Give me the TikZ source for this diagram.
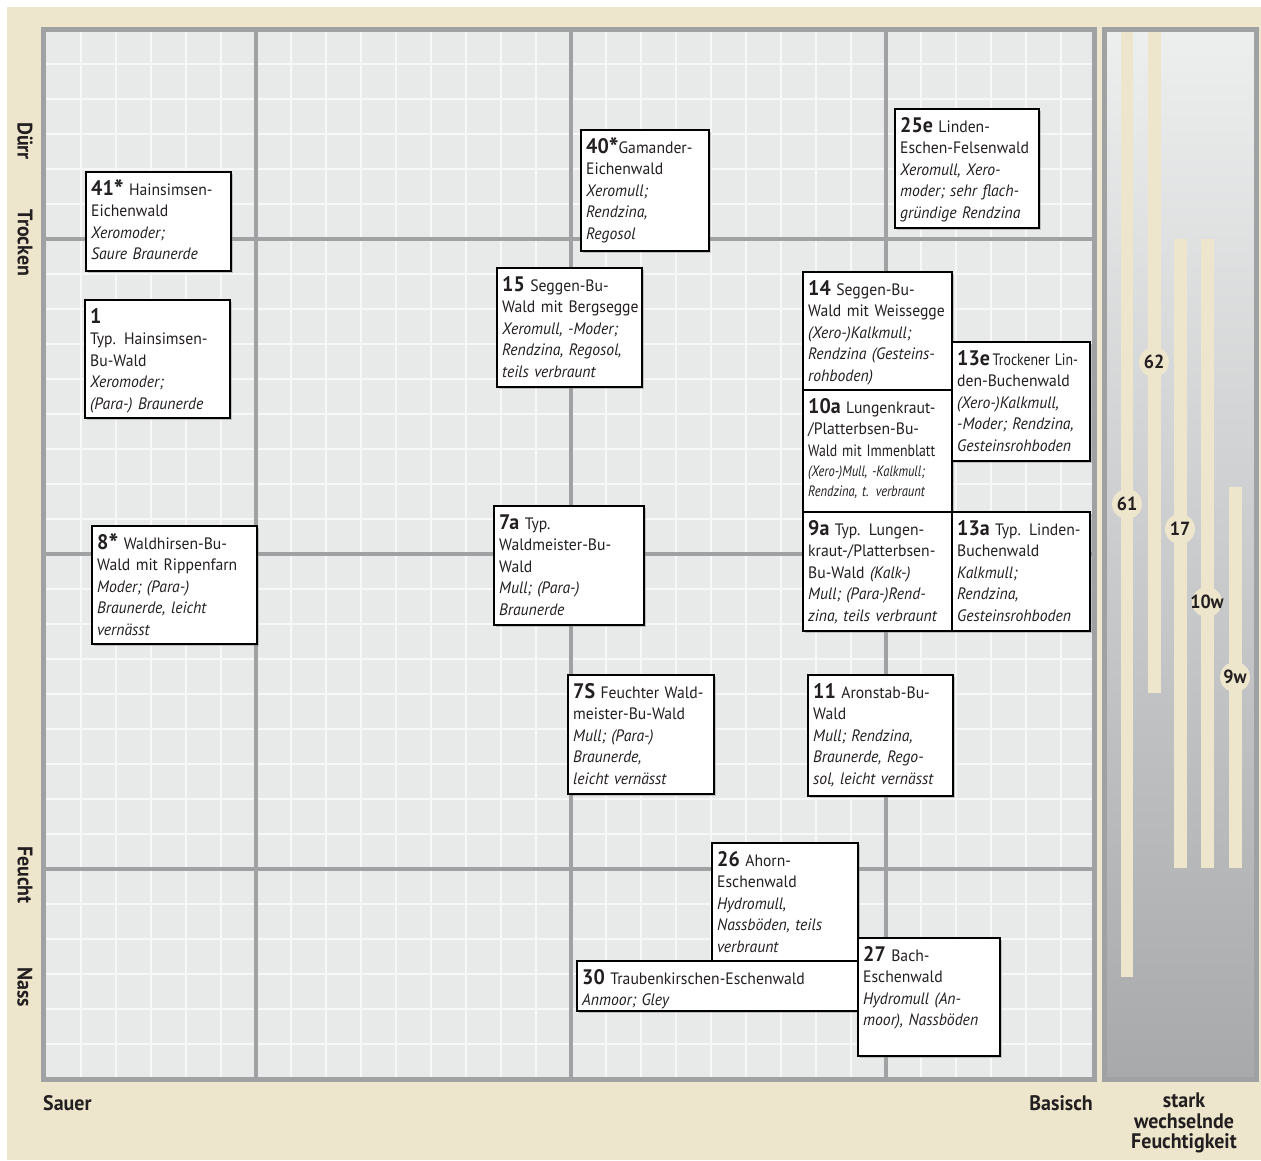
\documentclass[tikz,border=0pt]{standalone}
\usepackage{fontspec}
\usepackage{graphicx}
\setmainfont{PT Sans}[FakeStretch=0.95]
\usetikzlibrary{shadows}
\definecolor{beige}{HTML}{EEE6CC}
\definecolor{gridbg}{HTML}{E8E9E9}
\definecolor{gridline}{HTML}{F7F7F7}
\definecolor{major}{HTML}{A0A1A3}
\definecolor{ink}{HTML}{231F20}
\definecolor{paneltop}{HTML}{EDEEEE}
\definecolor{panelbot}{HTML}{A8A9AB}
\newcommand\wnum[1]{{\fontsize{21}{21}\selectfont\bfseries #1}}
\newcommand\wast{\raisebox{-4pt}[0pt][0pt]{\scalebox{1.3}{*}}}
\newcommand\cnd[1]{\scalebox{0.88}[1]{#1}}
\newcommand\wbox[6]{%
  \node[wbox, minimum width={#4pt-#2pt}, minimum height={#5pt-#3pt}] (#1) at ({(#2+#4)/2},{(#3+#5)/2}) {};
  \node[wtxt, anchor=base west] (#1t) at ({#2+5},{#3+23}) {#6};
}
\begin{document}
\begin{tikzpicture}[x=1pt,y=-1pt,
  wbox/.style={draw=black, line width=1.3pt, fill=white, inner sep=0pt,
    drop shadow={opacity=0.4, shadow xshift=2pt, shadow yshift=-2pt}},
  wtxt/.style={inner sep=0pt, text width=300pt, align=left, text=ink,
    font=\fontsize{16.5}{21.5}\selectfont},
  axlab/.style={text=ink, font=\fontsize{21}{21}\selectfont\bfseries, inner sep=0pt},
  barlab/.style={text=ink, font=\fontsize{19}{19}\selectfont\bfseries, inner sep=0pt},
  minor/.style={gridline, line width=2pt},
  majorline/.style={major, line width=4pt},
]
\useasboundingbox (0,0) rectangle (1261,1160);
\fill[white] (0,0) rectangle (1261,1160);
\fill[beige] (7,7) rectangle (1261,1160);

% main grid
\fill[gridbg] (46,32) rectangle (1092,1077);
\foreach \k in {1,...,29} \draw[minor] ({46+35*\k},32) -- ({46+35*\k},1077);
\foreach \k in {-23,...,5} \draw[minor] (46,{869+35*\k}) -- (1092,{869+35*\k});
\foreach \xx in {256,571,886} \draw[majorline] (\xx,32) -- (\xx,1077);
\foreach \yy in {239,554,869} \draw[majorline] (46,\yy) -- (1092,\yy);
\draw[major, line width=5pt] (43.5,29.5) rectangle (1094.5,1079.5);

% right panel
\shade[top color=paneltop, bottom color=panelbot] (1107,32) rectangle (1254,1077);
\draw[major, line width=5pt] (1104.5,29.5) rectangle (1256.5,1079.5);
\fill[beige] (1121,32) rectangle (1133,977);
\fill[beige] (1148,32) rectangle (1161,693);
\fill[beige] (1174,239) rectangle (1187,868);
\fill[beige] (1201,239) rectangle (1214,868);
\fill[beige] (1229,487) rectangle (1242,868);
\foreach \px/\py in {1154/362,1127/504,1180/529,1207/602,1235/677}
  \fill[beige] (\px,\py) circle (15);
\node[barlab] (l62) at (1154,362) {62};
\node[barlab] (l61) at (1127,504) {61};
\node[barlab] (l17) at (1180,529) {17};
\node[barlab] (l10w) at (1207,602) {10w};
\node[barlab] (l9w) at (1235,677) {9w};

% axis labels
\node[axlab, rotate=-90] (duerr) at (25,141) {Dürr};
\node[axlab, rotate=-90] (trocken) at (25,243) {Trocken};
\node[axlab, rotate=-90] (feucht) at (25,875) {Feucht};
\node[axlab, rotate=-90] (nass) at (25,987) {Nass};
\node[axlab, anchor=base west] (sauer) at (43,1110) {Sauer};
\node[axlab, anchor=base east] (basisch) at (1093,1110) {Basisch};
\node[axlab, anchor=north, align=center, font=\fontsize{21}{20.5}\selectfont\bfseries] (stark) at (1184,1093) {stark\\wechselnde\\Feuchtigkeit};

% boxes
\wbox{b41}{86}{172}{231}{271}{\wnum{41\wast} Hainsimsen-\\Eichenwald\\\itshape Xeromoder;\\Saure Braunerde}
\wbox{b1}{85}{300}{230}{418}{\wnum{1}\\Typ. Hainsimsen-\\Bu-Wald\\\itshape Xeromoder;\\(Para-) Braunerde}
\wbox{b8}{92}{526}{257}{644}{\wnum{8\wast} Waldhirsen-Bu-\\Wald mit Rippenfarn\\\itshape Moder; (Para-)\\Braunerde, leicht\\vernässt}
\wbox{b40}{581}{130}{709}{251}{\wnum{40\wast}Gamander-\\Eichenwald\\\itshape Xeromull;\\Rendzina,\\Regosol}
\wbox{b15}{497}{268}{642}{387}{\wnum{15} Seggen-Bu-\\Wald mit Bergsegge\\\itshape Xeromull, -Moder;\\Rendzina, Regosol,\\teils verbraunt}
\wbox{b25e}{895}{109}{1039}{228}{\wnum{25e} Linden-\\Eschen-Felsenwald\\\itshape Xeromull, Xero-\\moder; sehr flach-\\gründige Rendzina}
\wbox{b14}{803}{272}{952}{390}{\wnum{14} Seggen-Bu-\\Wald mit Weissegge\\\itshape (Xero-)Kalkmull;\\Rendzina (Gesteins-\\rohboden)}
\wbox{b10a}{803}{390}{952}{512}{\wnum{10a} Lungenkraut-\\/Platterbsen-Bu-\\\cnd{Wald mit Immenblatt}\par
  {\fontsize{15}{20}\selectfont\itshape \cnd{(Xero-)Mull, -Kalkmull;}\\\cnd{Rendzina, t. verbraunt}\par}}
\wbox{b13e}{952}{342}{1090}{461}{\wnum{13e}\,\cnd{Trockener Lin-}\\den-Buchenwald\\\itshape (Xero-)Kalkmull,\\-Moder; Rendzina,\\Gesteinsrohboden}
\wbox{b9a}{803}{512}{952}{631}{\wnum{9a} Typ. Lungen-\\kraut-/Platterbsen-\\Bu-Wald \textit{(Kalk-)}\\\itshape Mull; (Para-)Rend-\\zina, teils verbraunt}
\wbox{b13a}{952}{512}{1090}{631}{\wnum{13a} Typ. Linden-\\Buchenwald\\\itshape Kalkmull;\\Rendzina,\\Gesteinsrohboden}
\wbox{b7a}{494}{506}{644}{625}{\wnum{7a} Typ.\\Waldmeister-Bu-\\Wald\\\itshape Mull; (Para-)\\Braunerde}
\wbox{b7S}{568}{675}{714}{794}{\wnum{7S} Feuchter Wald-\\meister-Bu-Wald\\\itshape Mull; (Para-)\\Braunerde,\\leicht vernässt}
\wbox{b11}{808}{675}{953}{796}{\wnum{11} Aronstab-Bu-\\Wald\\\itshape Mull; Rendzina,\\Braunerde, Rego-\\sol, leicht vernässt}
\wbox{b26}{712}{843}{858}{962}{\wnum{26} Ahorn-\\Eschenwald\\\itshape Hydromull,\\Nassböden, teils\\verbraunt}
\wbox{b30}{577}{961}{859}{1011}{\wnum{30} Traubenkirschen-Eschenwald\\\itshape Anmoor; Gley}
\wbox{b27}{858}{938}{1000}{1056}{\wnum{27} Bach-\\Eschenwald\\\itshape Hydromull (An-\\moor), Nassböden}
\end{tikzpicture}
\end{document}
